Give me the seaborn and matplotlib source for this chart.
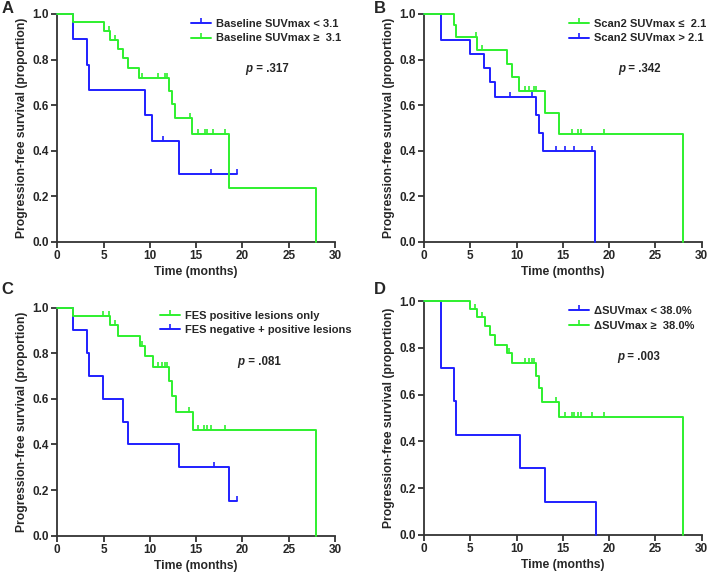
import matplotlib
matplotlib.use("Agg")
import matplotlib.pyplot as plt
from matplotlib.lines import Line2D
import seaborn as sns
import numpy as np

# ---- data (step times / survival levels / censor times) ----
A_blue_t = [0, 1.7, 3.2, 3.45, 9.5, 10.25, 13.1, 19.4]
A_blue_s = [1.0, 0.889, 0.778, 0.667, 0.556, 0.444, 0.296, 0.296]
A_blue_cens = [11.4, 16.6, 19.4]
A_green_t = [0, 1.7, 5.0, 5.68, 6.57, 7.15, 7.65, 8.8, 12.1, 12.37, 12.76, 14.6, 18.5, 28.0]
A_green_s = [1.0, 0.963, 0.927, 0.887, 0.847, 0.805, 0.762, 0.719, 0.663, 0.603, 0.543, 0.474, 0.237, 0.0]
A_green_cens = [5.55, 6.25, 9.17, 10.86, 11.65, 11.87, 14.3, 15.23, 15.95, 16.2, 16.84, 18.1]

B_green_t = [0, 3.24, 3.46, 5.73, 8.93, 9.47, 10.3, 13.1, 14.6, 28.0]
B_green_s = [1.0, 0.952, 0.897, 0.843, 0.782, 0.722, 0.662, 0.566, 0.472, 0.0]
B_green_cens = [5.62, 6.3, 10.9, 11.37, 11.87, 12.06, 15.96, 16.67, 16.92, 19.45]
B_blue_t = [0, 1.8, 4.97, 6.52, 7.13, 7.7, 12.06, 12.4, 12.82, 18.5]
B_blue_s = [1.0, 0.885, 0.824, 0.763, 0.700, 0.636, 0.556, 0.477, 0.397, 0.0]
B_blue_cens = [9.29, 11.7, 14.3, 15.2, 16.2, 18.1]

C_green_t = [0, 1.73, 5.69, 6.59, 8.93, 9.5, 10.3, 12.1, 12.39, 12.78, 14.62, 28.0]
C_green_s = [1.0, 0.963, 0.922, 0.877, 0.832, 0.787, 0.740, 0.680, 0.611, 0.542, 0.463, 0.0]
C_green_cens = [4.97, 5.58, 6.23, 9.2, 10.84, 11.27, 11.6, 11.85, 14.26, 15.23, 15.9, 16.17, 16.6, 18.1]
C_blue_t = [0, 1.73, 3.24, 3.46, 4.97, 7.13, 7.63, 13.1, 18.5, 19.45]
C_blue_s = [1.0, 0.9, 0.8, 0.7, 0.6, 0.5, 0.4, 0.3, 0.15, 0.15]
C_blue_cens = [16.9, 19.45]

D_blue_t = [0, 1.84, 3.28, 3.46, 10.33, 13.1, 18.55]
D_blue_s = [1.0, 0.714, 0.571, 0.429, 0.286, 0.143, 0.0]
D_blue_cens = []
D_green_t = [0, 4.97, 5.69, 6.55, 7.17, 7.67, 8.93, 9.47, 12.14, 12.39, 12.75, 14.62, 28.0]
D_green_s = [1.0, 0.966, 0.930, 0.892, 0.853, 0.813, 0.776, 0.735, 0.681, 0.628, 0.570, 0.506, 0.0]
D_green_cens = [5.55, 6.27, 9.18, 10.87, 11.34, 11.67, 11.88, 14.26, 15.2, 15.95, 16.2, 16.64, 16.96, 18.1, 19.45]

p_values = [".317", ".342", ".081", ".003"]
panel_letters = ["A", "B", "C", "D"]

BLUE = "#1f1fff"
GREEN = "#2ef02e"
SPINE = "#333333"
TICK_MARK = [(0, 0), (0, 1)]  # upward censor tick

sns.set_theme(style="ticks")
plt.rcParams['font.family'] = ['Liberation Sans', 'DejaVu Sans']


def surv_at(times, surv, t):
    """Niveau de survie de la courbe en escalier au temps t."""
    idx = np.searchsorted(np.asarray(times), t, side='right') - 1
    return surv[idx]


def draw_curve(ax, times, surv, cens, color):
    sns.lineplot(x=times, y=surv, ax=ax, color=color, lw=1.4, estimator=None,
                 sort=False, drawstyle='steps-post', clip_on=False, zorder=3)
    if cens:
        cy = [surv_at(times, surv, c) for c in cens]
        ax.plot(cens, cy, linestyle='none', marker=TICK_MARK, markersize=7,
                mew=1.2, color=color, clip_on=False, zorder=3)


def style_axes(ax):
    ax.set_xlim(0, 30)
    ax.set_ylim(0, 1.0)
    ax.set_xticks(range(0, 31, 5))
    ax.set_yticks([0.0, 0.2, 0.4, 0.6, 0.8, 1.0])
    ax.set_yticklabels(["0.0", "0.2", "0.4", "0.6", "0.8", "1.0"])
    for s in ['top', 'right']:
        ax.spines[s].set_visible(False)
    for s in ['left', 'bottom']:
        ax.spines[s].set_color(SPINE)
        ax.spines[s].set_linewidth(1.3)
    ax.tick_params(direction='out', length=4, width=1.3, color=SPINE,
                   labelsize=8.5, pad=2)
    for lab in ax.get_xticklabels() + ax.get_yticklabels():
        lab.set_fontweight('bold')
    ax.set_xlabel("Time (months)", fontsize=8.7, fontweight='bold', labelpad=3)
    ax.set_ylabel("Progression-free survival (proportion)", fontsize=8.7,
                  fontweight='bold', labelpad=3)


def add_legend(ax, entries, anchor):
    handles = [Line2D([], [], color=c, lw=1.4, marker=TICK_MARK, markersize=7,
                      mew=1.2) for c, _ in entries]
    labels = [l for _, l in entries]
    leg = ax.legend(handles, labels, loc='upper left', bbox_to_anchor=anchor,
                    frameon=False, borderpad=0, borderaxespad=0, handlelength=1.8,
                    handletextpad=0.45, labelspacing=0.4,
                    prop={'weight': 'bold', 'size': 8})
    return leg


def add_p(ax, x, y, p):
    ax.text(x, y, "p", style='italic', fontweight='bold', fontsize=8.3,
            ha='right', va='center')
    ax.text(x, y, " = " + p, fontweight='bold', fontsize=8.3, ha='left', va='center')


fig = plt.figure(figsize=(7.09, 5.76), dpi=100)

rects = [
    [0.0808, 0.5804, 0.3917, 0.3953],
    [0.5980, 0.5804, 0.3917, 0.3953],
    [0.0808, 0.0700, 0.3917, 0.3958],
    [0.5980, 0.0712, 0.3917, 0.4062],
]
axes = [fig.add_axes(r) for r in rects]

# A
ax = axes[0]
draw_curve(ax, A_blue_t, A_blue_s, A_blue_cens, BLUE)
draw_curve(ax, A_green_t, A_green_s, A_green_cens, GREEN)
add_legend(ax, [(BLUE, "Baseline SUVmax < 3.1"), (GREEN, "Baseline SUVmax \u2265  3.1")],
           (0.48, 0.978))
add_p(ax, 21.1, 0.76, p_values[0])

# B
ax = axes[1]
draw_curve(ax, B_blue_t, B_blue_s, B_blue_cens, BLUE)
draw_curve(ax, B_green_t, B_green_s, B_green_cens, GREEN)
add_legend(ax, [(GREEN, "Scan2 SUVmax \u2264  2.1"), (BLUE, "Scan2 SUVmax > 2.1")],
           (0.523, 0.978))
add_p(ax, 21.7, 0.76, p_values[1])

# C
ax = axes[2]
draw_curve(ax, C_blue_t, C_blue_s, C_blue_cens, BLUE)
draw_curve(ax, C_green_t, C_green_s, C_green_cens, GREEN)
add_legend(ax, [(GREEN, "FES positive lesions only"), (BLUE, "FES negative + positive lesions")],
           (0.37, 0.987))
add_p(ax, 20.25, 0.76, p_values[2])

# D
ax = axes[3]
draw_curve(ax, D_blue_t, D_blue_s, D_blue_cens, BLUE)
draw_curve(ax, D_green_t, D_green_s, D_green_cens, GREEN)
add_legend(ax, [(BLUE, "\u0394SUVmax < 38.0%"), (GREEN, "\u0394SUVmax \u2265  38.0%")],
           (0.523, 0.978))
add_p(ax, 21.66, 0.76, p_values[3])

for ax in axes:
    style_axes(ax)

letter_pos = [(0.002, 0.985), (0.528, 0.985), (0.002, 0.497), (0.528, 0.497)]
for (x, y), letter in zip(letter_pos, panel_letters):
    fig.text(x, y, letter, fontsize=12, fontweight='bold', ha='left', va='center')

fig.savefig("out.png", dpi=100)
